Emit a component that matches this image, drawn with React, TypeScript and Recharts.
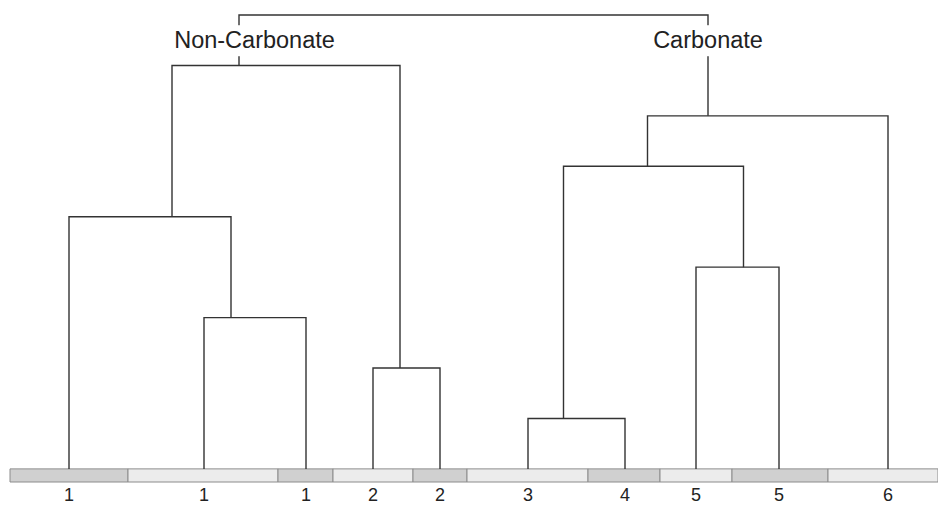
import React from "react";
import { ComposedChart, Line, Scatter, XAxis, YAxis, ReferenceArea } from "recharts";

// leaves, left to right (x in pixel-like units along the strip)
const leafX = [69, 204, 306, 373, 440, 528, 625, 696, 779, 888];
const leafLabels = ["1", "1", "1", "2", "2", "3", "4", "5", "5", "6"];

// sample strip under the leaves
const stripEdges = [10, 128, 278, 333, 413, 467, 588, 660, 732, 828, 938];

// merges (node ids: leaves 0..9, merges 10..18)
const mergeLeft = [5, 3, 1, 7, 0, 10, 15, 14, 17];
const mergeRight = [6, 4, 2, 8, 12, 13, 9, 11, 16];
const mergeHeight = [1, 2, 3, 4, 5, 6, 7, 8, 9];
const mergeX = [563.5, 400, 231, 743.5, 172, 647.5, 708, 239, 473.5];

// group names on the two top branches
const groupNames = ["Non-Carbonate", "Carbonate"];
const groupX = [254.5, 708];
const groupH = [8.5, 8.5];

const FONT = "'Liberation Sans', Arial, Helvetica, sans-serif";
const STROKE = "#333";
const SHADES = ["#d0d0d0", "#ececec"];

const nodeX = [...leafX, ...mergeX];
const nodeH = [...leafX.map(() => 0), ...mergeHeight];

const links = mergeHeight.map((h, i) => {
	const a = mergeLeft[i];
	const b = mergeRight[i];
	return [
		{ x: nodeX[a], h: nodeH[a] },
		{ x: nodeX[a], h },
		{ x: nodeX[b], h },
		{ x: nodeX[b], h: nodeH[b] },
	];
});

const labelData = groupNames.map((name, i) => ({ name, x: groupX[i], h: groupH[i] }));

const GroupLabel = (props: any) => {
	const { cx, cy, payload } = props;
	const w = payload.name.length * 12.5;
	return (
		<g>
			<rect x={cx - w / 2} y={cy - 15} width={w} height={31} fill="#fff" />
			<text
				x={cx}
				y={cy + 8}
				textAnchor="middle"
				fontFamily={FONT}
				fontSize={23.5}
				fill="#222">
				{payload.name}
			</text>
		</g>
	);
};

export default function App() {
	return (
		<div style={{ position: "fixed", top: 0, left: 0, background: "#fff" }}>
			<ComposedChart
				width={938}
				height={505}
				margin={{ top: 15, right: 0, bottom: 0, left: 0 }}>
				<XAxis
					type="number"
					dataKey="x"
					domain={[0, 938]}
					ticks={leafX}
					interval={0}
					tickFormatter={(v: number, i: number) => leafLabels[i]}
					axisLine={false}
					tickLine={false}
					tickSize={0}
					tickMargin={6}
					height={23}
					tick={{ fontSize: 18, fill: "#222", fontFamily: FONT }}
				/>
				<YAxis type="number" dataKey="h" domain={[-0.26, 9]} hide />
				{stripEdges.slice(0, -1).map((x1, i) => (
					<ReferenceArea
						key={`seg-${i}`}
						x1={x1}
						x2={stripEdges[i + 1]}
						y1={-0.26}
						y2={0}
						fill={SHADES[i % 2]}
						fillOpacity={1}
						stroke="#8c8c8c"
						strokeWidth={1}
					/>
				))}
				{links.map((pts, i) => (
					<Line
						key={`link-${i}`}
						data={pts}
						dataKey="h"
						type="linear"
						stroke={STROKE}
						strokeWidth={1.4}
						dot={false}
						activeDot={false}
						isAnimationActive={false}
					/>
				))}
				<Scatter
					data={labelData}
					dataKey="h"
					shape={GroupLabel}
					isAnimationActive={false}
				/>
			</ComposedChart>
		</div>
	);
}
